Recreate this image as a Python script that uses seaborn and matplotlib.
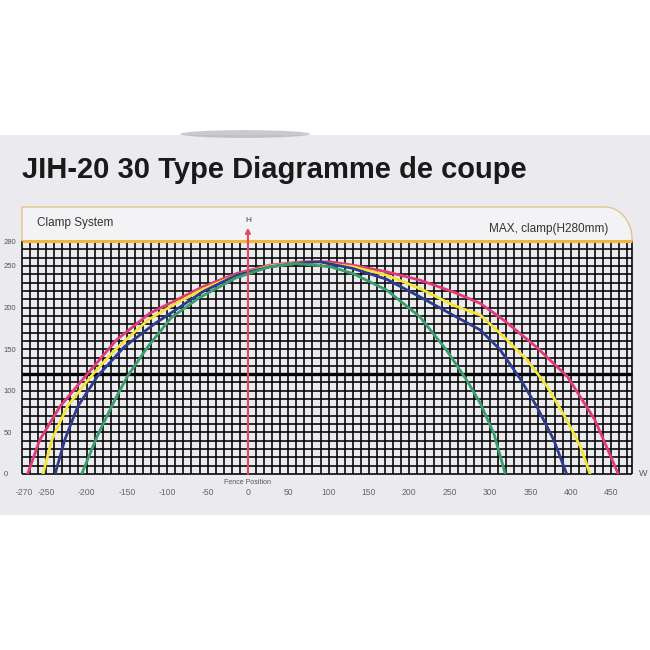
import numpy as np
import pandas as pd
import matplotlib
matplotlib.use("Agg")
import matplotlib.pyplot as plt
import matplotlib.transforms as mtransforms
from matplotlib.patches import Rectangle, PathPatch, Ellipse
from matplotlib.path import Path
import seaborn as sns

# ─── Values ───────────────────────────────────────────────────────────────────
title        = "JIH-20 30 Type Diagramme de coupe"
header_left  = "Clamp System"
header_right = "MAX, clamp(H280mm)"

x_ticks  = [-270, -250, -200, -150, -100, -50, 0, 50, 100, 150, 200, 250, 300, 350, 400, 450]
x_labels = ["-270", "-250", "-200", "-150", "-100", "-50", "0", "50", "100",
            "150", "200", "250", "300", "350", "400", "450"]
y_ticks  = [0, 50, 100, 150, 200, 250, 280]
y_labels = ["0", "50", "100", "150", "200", "250", "280"]

max_height = 280
clamp_line = 120
fence_pos  = 0

pink_x = [-273, -258, -233, -201, -163, -122, -93, -56, -14, 27, 68, 102, 130,
          172, 213, 254, 288, 317, 357, 396, 430, 459]
pink_y = [0, 41, 81, 118, 161, 193, 207, 225, 241, 251, 255, 255, 251,
          243, 233, 219, 205, 185, 153, 117, 65, 0]

yellow_x = [-254, -243, -224, -194, -165, -124, -93, -56, -14, 27, 68, 89, 130,
            172, 213, 254, 288, 317, 346, 371, 395, 412, 424]
yellow_y = [0, 41, 81, 118, 149, 185, 203, 222, 239, 250, 254, 254, 249,
            239, 223, 203, 191, 165, 137, 105, 65, 33, 0]

blue_x = [-239, -227, -211, -186, -153, -115, -93, -56, -14, 27, 68, 89, 130,
          172, 213, 254, 288, 312, 337, 358, 379, 395]
blue_y = [0, 41, 81, 118, 153, 181, 195, 219, 239, 249, 254, 255, 247,
          234, 213, 191, 173, 150, 115, 81, 41, 0]

green_x = [-206, -187, -165, -149, -124, -95, -60, -14, 27, 60, 102, 130, 172,
           213, 246, 271, 288, 305, 319]
green_y = [0, 45, 89, 118, 153, 188, 212, 236, 249, 253, 249, 241, 221,
           189, 149, 113, 85, 48, 0]

palette = {"pink": "#e2397a", "yellow": "#f3e43a", "blue": "#2e3a8c", "green": "#3a9d6c"}

curves = pd.concat([
    pd.DataFrame({"w": pink_x,   "h": pink_y,   "curve": "pink"}),
    pd.DataFrame({"w": yellow_x, "h": yellow_y, "curve": "yellow"}),
    pd.DataFrame({"w": blue_x,   "h": blue_y,   "curve": "blue"}),
    pd.DataFrame({"w": green_x,  "h": green_y,  "curve": "green"}),
], ignore_index=True)

# ─── Style ────────────────────────────────────────────────────────────────────
sns.set_theme(style="white")
plt.rcParams["font.family"] = ["Liberation Sans", "DejaVu Sans"]

W, H = 650, 650
fig = plt.figure(figsize=(6.5, 6.5), dpi=100)
fig.patch.set_facecolor("white")

def fx(px):
    return px / W

def fy(py):
    return 1 - py / H

# grey photo band and the little shadow at its top
fig.add_artist(Rectangle((0, fy(515)), 1, (515 - 135) / H, transform=fig.transFigure,
                         facecolor="#ebebef", edgecolor="none", zorder=-3))
fig.add_artist(Ellipse((fx(245), fy(134)), 0.2, 0.012, transform=fig.transFigure,
                       facecolor="#a0a0a4", edgecolor="none", alpha=0.55, zorder=-2))

# header box with the rounded top-right corner
x0, x1, y0, y1 = fx(22), fx(632), fy(241), fy(207)
rx, ry, k = 27 / W, 32 / H, 0.552
verts = [(x0, y0), (x0, y1), (x1 - rx, y1),
         (x1 - rx + k * rx, y1), (x1, y1 - ry + k * ry), (x1, y1 - ry),
         (x1, y0), (x0, y0)]
codes = [Path.MOVETO, Path.LINETO, Path.LINETO,
         Path.CURVE4, Path.CURVE4, Path.CURVE4,
         Path.LINETO, Path.CLOSEPOLY]
fig.add_artist(PathPatch(Path(verts, codes), transform=fig.transFigure,
                         facecolor="#f3f3f5", edgecolor="#e3c48e", lw=1.0, zorder=-1))
fig.text(fx(37), fy(223), header_left, fontsize=8.5, color="#333333", va="center")
fig.text(fx(608), fy(229), header_right, fontsize=8.5, color="#333333",
         va="center", ha="right")

fig.text(fx(22), fy(178), title, fontsize=21, fontweight="bold",
         color="#1a1a1a", va="baseline")

# ─── Chart ────────────────────────────────────────────────────────────────────
ax = fig.add_axes([fx(22), fy(474), (632 - 22) / W, (474 - 241) / H])
ax.set_facecolor("none")
x_max = 476
ax.set_xlim(-280, x_max)
ax.set_ylim(0, max_height)

grid_x = list(np.arange(-280, x_max, 10)) + [x_max]
grid_y = np.arange(0, max_height, 10)
ax.vlines(grid_x, 0, max_height, colors="black", lw=1.15, zorder=2, clip_on=False)
ax.hlines(grid_y, -280, x_max, colors="black", lw=1.15, zorder=2, clip_on=False)
ax.hlines([clamp_line], -280, x_max, colors="black", lw=2.4, zorder=2, clip_on=False)

sns.lineplot(data=curves, x="w", y="h", hue="curve", palette=palette,
             sort=False, estimator=None, lw=2.0, legend=False, ax=ax, zorder=3)

ax.hlines([max_height], -280, x_max, colors="#f0b43c", lw=2.2, zorder=5, clip_on=False)

# fence / H line with arrow
ax.annotate("", xy=(fence_pos, 296), xytext=(fence_pos, 0),
            arrowprops=dict(arrowstyle="-|>", color="#e5485f", lw=1.5,
                            mutation_scale=7, shrinkA=0, shrinkB=0),
            annotation_clip=False, zorder=6)
ax.text(fence_pos, 301, "H", fontsize=6, color="#444444", ha="center", va="bottom")
ax.text(fence_pos, -6, "Fence Position", fontsize=5, color="#555555",
        ha="center", va="top")
ax.text(x_max + 8, 0, "W", fontsize=6.5, color="#555555", ha="left", va="center")

for side in ax.spines.values():
    side.set_visible(False)
ax.set_xticks(x_ticks, x_labels)
ax.set_yticks(y_ticks, y_labels)
ax.tick_params(axis="x", length=0, labelsize=6.2, labelcolor="#666666", pad=10)
ax.tick_params(axis="y", length=0, labelsize=5.5, labelcolor="#555555", pad=13.5)
for lbl in ax.get_yticklabels():
    lbl.set_horizontalalignment("left")
# the two leftmost labels sit close together; nudge the first one left a bit
first = ax.get_xticklabels()[0]
first.set_transform(first.get_transform() +
                    mtransforms.ScaledTranslation(-6 / 100, 0, fig.dpi_scale_trans))
ax.set_xlabel("")
ax.set_ylabel("")

fig.savefig("out.png", dpi=100)
